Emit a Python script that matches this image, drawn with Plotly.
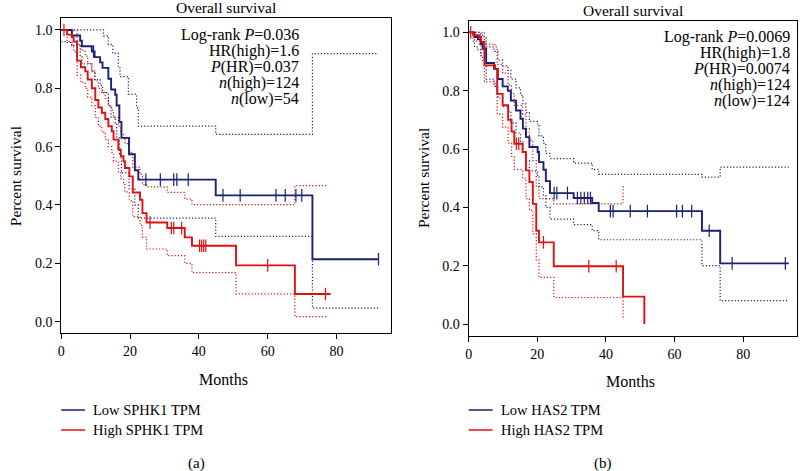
import plotly.graph_objects as go

# ---------------- data: panel (a) SPHK1 ----------------
a_low_t = [0, 3.1, 5.5, 6.0, 8.9, 9.7, 11.3, 12.0, 13.7, 14.5, 15.7, 16.1, 16.9, 17.5, 19.7, 21.4, 22.4, 44.9, 73.0, 92.2]
a_low_s = [1.0, 0.981, 0.963, 0.944, 0.926, 0.907, 0.889, 0.870, 0.833, 0.796, 0.778, 0.741, 0.685, 0.63, 0.574, 0.519, 0.487, 0.433, 0.214, 0.214]
a_low_up_t = [0, 11.3, 12.3, 13.7, 15.0, 16.6, 17.1, 19.5, 21.9, 22.4, 44.9, 73.0, 92.2]
a_low_up_s = [1.0, 1.0, 0.98, 0.95, 0.92, 0.87, 0.84, 0.78, 0.733, 0.67, 0.642, 0.919, 0.919]
a_low_lo_t = [0, 1.6, 3.1, 5.5, 6.0, 8.9, 9.7, 11.3, 12.0, 13.7, 14.5, 15.7, 16.1, 16.9, 17.5, 19.7, 21.4, 22.4, 44.9, 73.0, 92.2]
a_low_lo_s = [0.96, 0.957, 0.946, 0.913, 0.884, 0.858, 0.83, 0.81, 0.785, 0.74, 0.70, 0.68, 0.63, 0.57, 0.51, 0.455, 0.40, 0.355, 0.292, 0.046, 0.046]
a_low_cens_t = [9.4, 24.6, 28.8, 32.7, 33.6, 36.9, 47.0, 52.0, 62.4, 65.1, 68.2, 69.9, 92.2]
a_low_cens_s = [0.926, 0.487, 0.487, 0.487, 0.487, 0.487, 0.433, 0.433, 0.433, 0.433, 0.433, 0.433, 0.214]

a_high_t = [0, 1.7, 3.1, 3.6, 4.6, 5.7, 7.0, 7.7, 8.9, 9.9, 10.8, 11.8, 12.8, 13.7, 14.7, 15.2, 16.6, 17.3, 18.1, 18.5, 19.8, 20.8, 22.9, 23.6, 24.8, 30.8, 35.9, 38.0, 50.8, 67.9, 78.3]
a_high_s = [1.0, 0.984, 0.976, 0.96, 0.895, 0.872, 0.858, 0.83, 0.80, 0.76, 0.734, 0.716, 0.695, 0.67, 0.653, 0.624, 0.59, 0.567, 0.55, 0.527, 0.498, 0.443, 0.418, 0.372, 0.34, 0.321, 0.289, 0.26, 0.193, 0.095, 0.095]
a_high_up_t = [0, 3.6, 4.6, 5.7, 7.0, 7.7, 8.9, 9.9, 10.8, 11.8, 12.8, 13.7, 14.7, 15.2, 16.6, 17.3, 18.1, 18.5, 19.8, 20.8, 22.9, 23.6, 24.8, 30.8, 35.9, 38.0, 67.9, 77.3]
a_high_up_s = [1.0, 0.998, 0.95, 0.93, 0.91, 0.885, 0.86, 0.825, 0.80, 0.785, 0.765, 0.74, 0.725, 0.70, 0.67, 0.645, 0.63, 0.61, 0.58, 0.53, 0.505, 0.47, 0.462, 0.443, 0.42, 0.401, 0.466, 0.466]
a_high_lo_t = [0, 1.7, 3.1, 3.6, 4.6, 5.7, 7.0, 7.7, 8.9, 9.9, 10.8, 11.8, 12.8, 13.7, 14.7, 15.2, 16.6, 17.3, 18.1, 18.5, 19.8, 20.8, 22.9, 23.6, 24.8, 30.8, 35.9, 38.0, 50.8, 67.9, 77.3]
a_high_lo_s = [1.0, 0.96, 0.945, 0.925, 0.845, 0.82, 0.80, 0.77, 0.74, 0.70, 0.67, 0.65, 0.625, 0.60, 0.58, 0.55, 0.51, 0.49, 0.47, 0.445, 0.415, 0.36, 0.33, 0.29, 0.249, 0.226, 0.20, 0.168, 0.095, 0.017, 0.017]
a_high_cens_t = [0.8, 25.8, 32.0, 32.7, 35.0, 40.2, 40.8, 41.4, 42.0, 60.0, 76.8]
a_high_cens_s = [1.0, 0.34, 0.321, 0.321, 0.321, 0.26, 0.26, 0.26, 0.26, 0.193, 0.095]

# ---------------- data: panel (b) HAS2 ----------------
b_low_t = [0, 1.7, 2.7, 3.5, 4.1, 5.1, 7.4, 8.5, 9.9, 11.4, 12.3, 13.8, 15.1, 15.8, 16.7, 17.7, 20.1, 20.5, 21.8, 22.5, 23.7, 30.6, 36.0, 37.9, 68.0, 73.3, 93.3]
b_low_s = [1.0, 0.984, 0.976, 0.96, 0.944, 0.895, 0.875, 0.84, 0.815, 0.80, 0.766, 0.732, 0.704, 0.67, 0.641, 0.607, 0.59, 0.555, 0.529, 0.49, 0.449, 0.432, 0.415, 0.387, 0.32, 0.208, 0.208]
b_low_up_s = [1.0, 1.0, 1.0, 0.995, 0.985, 0.95, 0.935, 0.905, 0.885, 0.87, 0.84, 0.81, 0.785, 0.755, 0.725, 0.695, 0.68, 0.645, 0.62, 0.585, 0.567, 0.552, 0.53, 0.513, 0.504, 0.538, 0.538]
b_low_lo_s = [1.0, 0.95, 0.94, 0.92, 0.90, 0.84, 0.815, 0.775, 0.745, 0.73, 0.69, 0.655, 0.625, 0.59, 0.56, 0.525, 0.505, 0.47, 0.44, 0.40, 0.36, 0.341, 0.32, 0.289, 0.20, 0.08, 0.08]
b_low_cens_t = [24.9, 25.7, 28.8, 31.7, 32.7, 33.7, 34.7, 35.5, 41.3, 42.1, 47.1, 52.1, 60.6, 62.3, 65.0, 70.1, 76.8, 92.3]
b_low_cens_s = [0.449, 0.449, 0.449, 0.432, 0.432, 0.432, 0.432, 0.432, 0.387, 0.387, 0.387, 0.387, 0.387, 0.387, 0.387, 0.32, 0.208, 0.208]

b_high_t = [0, 1.3, 3.2, 3.6, 4.6, 7.7, 8.3, 9.9, 11.5, 12.5, 13.3, 15.7, 16.7, 17.7, 18.7, 19.7, 20.5, 24.8, 45.0, 51.2]
b_high_s = [1.0, 0.99, 0.984, 0.967, 0.887, 0.875, 0.789, 0.75, 0.70, 0.66, 0.618, 0.59, 0.527, 0.487, 0.412, 0.32, 0.28, 0.198, 0.094, 0.0]
b_high_up_t = [0, 3.6, 4.6, 7.7, 8.3, 9.9, 11.5, 12.5, 13.3, 15.7, 16.7, 17.7, 18.7, 19.7, 20.5, 24.8, 45.0, 45.3]
b_high_up_s = [1.0, 1.0, 0.96, 0.95, 0.89, 0.86, 0.82, 0.79, 0.75, 0.72, 0.67, 0.63, 0.56, 0.47, 0.43, 0.412, 0.47, 0.47]
b_high_lo_t = [0, 1.3, 3.2, 3.6, 4.6, 7.7, 8.3, 9.9, 11.5, 12.5, 13.3, 15.7, 16.7, 17.7, 18.7, 19.7, 20.5, 24.8, 45.0, 45.3]
b_high_lo_s = [1.0, 0.97, 0.955, 0.93, 0.83, 0.815, 0.72, 0.675, 0.62, 0.575, 0.53, 0.50, 0.43, 0.39, 0.31, 0.22, 0.16, 0.091, 0.018, 0.018]
b_high_cens_t = [0.6, 13.9, 14.6, 21.8, 35.0, 43.0]
b_high_cens_s = [1.0, 0.618, 0.618, 0.28, 0.198, 0.198]

# ---------------- text ----------------
titles = ["Overall survival", "Overall survival"]
stats_a = ["Log-rank <i>P</i>=0.036", "HR(high)=1.6", "<i>P</i>(HR)=0.037", "<i>n</i>(high)=124", "<i>n</i>(low)=54"]
stats_b = ["Log-rank <i>P</i>=0.0069", "HR(high)=1.8", "<i>P</i>(HR)=0.0074", "<i>n</i>(high)=124", "<i>n</i>(low)=124"]
legend_a = ["Low SPHK1 TPM", "High SPHK1 TPM"]
legend_b = ["Low HAS2 TPM", "High HAS2 TPM"]
panel_labels = ["(a)", "(b)"]
x_ticks = [0, 20, 40, 60, 80]
y_ticks = [0.0, 0.2, 0.4, 0.6, 0.8, 1.0]

BLUE = "#1a1f78"
RED = "#e01010"
FONT = "Liberation Serif, Times New Roman, serif"
OFF = 0  # body margin removed by post_script below
W, H = 800 - OFF, 471 - OFF

fig = go.Figure()


def add_step(t, s, color, xa, ya, dotted=False):
    fig.add_trace(go.Scatter(
        x=t, y=s, mode="lines", line_shape="hv",
        line=dict(color=color, width=1.2 if dotted else 1.9, dash="1.2px,2px" if dotted else "solid"),
        xaxis=xa, yaxis=ya, showlegend=False, hoverinfo="skip"))


def add_cens(t, s, color, xa, ya):
    fig.add_trace(go.Scatter(
        x=t, y=s, mode="markers",
        marker=dict(symbol="line-ns", size=9, line=dict(color=color, width=1.2)),
        xaxis=xa, yaxis=ya, showlegend=False, hoverinfo="skip"))


# panel a
add_step(a_low_up_t, a_low_up_s, BLUE, "x", "y", True)
add_step(a_low_lo_t, a_low_lo_s, BLUE, "x", "y", True)
add_step(a_high_up_t, a_high_up_s, RED, "x", "y", True)
add_step(a_high_lo_t, a_high_lo_s, RED, "x", "y", True)
add_step(a_low_t, a_low_s, BLUE, "x", "y")
add_step(a_high_t, a_high_s, RED, "x", "y")
add_cens(a_low_cens_t, a_low_cens_s, BLUE, "x", "y")
add_cens(a_high_cens_t, a_high_cens_s, RED, "x", "y")

# panel b
add_step(b_low_t, b_low_up_s, BLUE, "x2", "y2", True)
add_step(b_low_t, b_low_lo_s, BLUE, "x2", "y2", True)
add_step(b_high_up_t, b_high_up_s, RED, "x2", "y2", True)
add_step(b_high_lo_t, b_high_lo_s, RED, "x2", "y2", True)
add_step(b_low_t, b_low_s, BLUE, "x2", "y2")
add_step(b_high_t, b_high_s, RED, "x2", "y2")
add_cens(b_low_cens_t, b_low_cens_s, BLUE, "x2", "y2")
add_cens(b_high_cens_t, b_high_cens_s, RED, "x2", "y2")


def px(x):
    return (x - OFF) / W


def py(y):
    return 1 - (y - OFF) / H


axis_common = dict(showline=True, mirror=True, linecolor="black", linewidth=1,
                   ticks="outside", ticklen=5, tickcolor="black", showgrid=False,
                   zeroline=False, tickfont=dict(family=FONT, size=14, color="black"))

panels = [
    dict(x0=57.5, x1=388.5, y0=18.3, y1=333.3),
    dict(x0=467.0, x1=797.0, y0=20.7, y1=335.7),
]

layout = dict(
    width=W, height=H, margin=dict(l=0, r=0, t=0, b=0),
    plot_bgcolor="white", paper_bgcolor="white",
    font=dict(family=FONT, size=14, color="black"),
)
for i, p in enumerate(panels):
    sfx = "" if i == 0 else "2"
    layout["xaxis" + sfx] = dict(axis_common, domain=[px(p["x0"]), px(p["x1"])], range=[0, 95.7],
                                 tickvals=x_ticks, anchor="y" + sfx)
    layout["yaxis" + sfx] = dict(axis_common, domain=[py(p["y1"]), py(p["y0"])], range=[-0.04, 1.04],
                                 tickvals=y_ticks, tickformat=".1f", anchor="x" + sfx)
fig.update_layout(**layout)

ann = []
shapes = []
for i, p in enumerate(panels):
    cx = (p["x0"] + p["x1"]) / 2
    dy = p["y0"] - 18.3
    ann.append(dict(text=titles[i], x=px(cx), y=py(8 + dy), xref="paper", yref="paper",
                    showarrow=False, xanchor="center", yanchor="middle", font=dict(size=15.5)))
    ann.append(dict(text="Months", x=px(cx - 2), y=py(379 + dy), xref="paper", yref="paper",
                    showarrow=False, xanchor="center", yanchor="middle", font=dict(size=16)))
    ann.append(dict(text="Percent survival", x=px(p["x0"] - 46), y=py((p["y0"] + p["y1"]) / 2), xref="paper",
                    yref="paper", showarrow=False, xanchor="center", yanchor="middle", textangle=-90,
                    font=dict(size=15.5)))
    stats = stats_a if i == 0 else stats_b
    right = 298.5 if i == 0 else 791.5
    for k, line in enumerate(stats):
        ann.append(dict(text=line, x=px(right), y=py(35 + 16 * k + dy), xref="paper", yref="paper",
                        showarrow=False, xanchor="right", yanchor="middle", font=dict(size=16)))
    leg = legend_a if i == 0 else legend_b
    for k, (lab, col) in enumerate(zip(leg, [BLUE, RED])):
        ly = 410 + 20 * k
        shapes.append(dict(type="line", xref="paper", yref="paper", x0=px(p["x0"]), x1=px(p["x0"] + 24),
                           y0=py(ly), y1=py(ly), line=dict(color=col, width=1.5)))
        ann.append(dict(text=lab, x=px(p["x0"] + 30), y=py(ly), xref="paper", yref="paper",
                        showarrow=False, xanchor="left", yanchor="middle", font=dict(size=14.5)))
    ann.append(dict(text=panel_labels[i], x=px(193 if i == 0 else 602), y=py(463), xref="paper", yref="paper",
                    showarrow=False, xanchor="center", yanchor="middle", font=dict(size=15)))

fig.update_layout(annotations=ann, shapes=shapes)
fig.write_html("out.html", config={"displayModeBar": False},
               post_script="document.body.style.margin='0px';")
